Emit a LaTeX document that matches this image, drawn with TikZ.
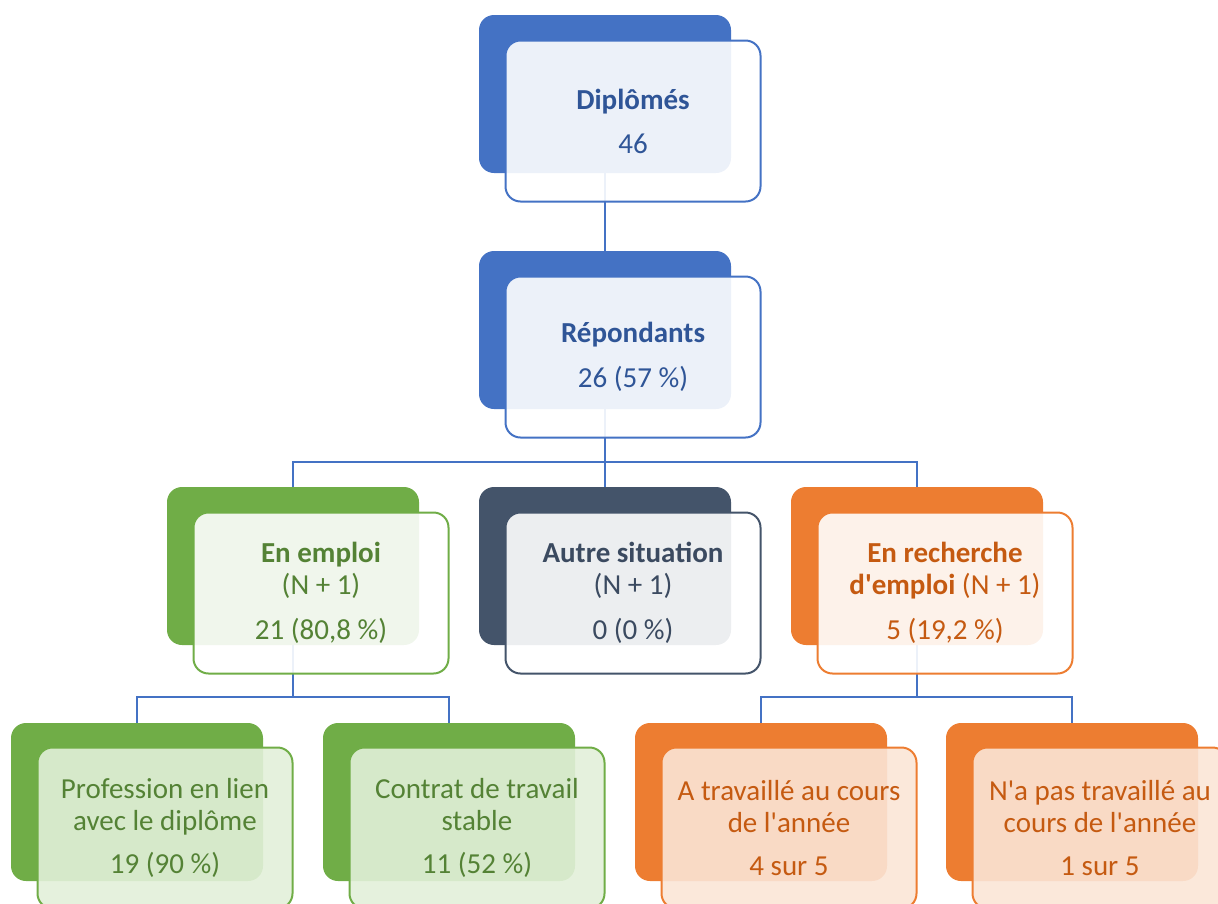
\documentclass[tikz,border=0pt]{standalone}
\usepackage{fontspec}
\newfontfamily\calfont{Carlito}
\definecolor{cblue}{HTML}{4472C4}
\definecolor{tblue}{HTML}{2F5597}
\definecolor{cgreen}{HTML}{70AD47}
\definecolor{tgreen}{HTML}{548235}
\definecolor{cslate}{HTML}{44546A}
\definecolor{tslate}{HTML}{3B4A60}
\definecolor{corange}{HTML}{ED7D31}
\definecolor{torange}{HTML}{C55A11}
\definecolor{lgreen}{HTML}{E2F0D9}
\definecolor{lorange}{HTML}{FBE5D6}
\pgfdeclarelayer{bg}
\pgfsetlayers{bg,main}
\tikzset{
  backbox/.style={draw=none, fill=#1, rounded corners=15pt, minimum width=252pt, minimum height=158pt, inner sep=0pt},
  frontbox/.style={draw=#1, line width=2pt, rounded corners=15pt, minimum width=255pt, minimum height=161pt,
    fill opacity=0.9, text opacity=1, align=center, inner sep=0pt, font=\calfont\fontsize{29}{32}\selectfont},
  link/.style={draw=cblue, line width=2.5pt}
}
\begin{document}
\begin{tikzpicture}[x=1pt,y=-1pt]
\useasboundingbox (0,0) rectangle (1218,903);
\clip (0,0) rectangle (1218,903);
% level 0
\node[backbox=cblue] (dipB) at (605,94) {};
\node[frontbox=cblue, fill=white, text=tblue] (dipF) at (633,121) {\textbf{Diplômés}\\[12pt]46};
\node[backbox=cblue] (repB) at (605,330) {};
\node[frontbox=cblue, fill=white, text=tblue] (repF) at (633,357) {\textbf{Répondants}\\[13pt]26 (57 \%)};
% level 1
\node[backbox=cgreen] (empB) at (293,566) {};
\node[frontbox=cgreen, fill=white, text=tgreen] (empF) at (321,593) {\textbf{En emploi}\\(N + 1)\\[13pt]21 (80,8 \%)};
\node[backbox=cslate] (autB) at (605,566) {};
\node[frontbox=cslate, fill=white, text=tslate] (autF) at (633,593) {\textbf{Autre situation}\\(N + 1)\\[13pt]0 (0 \%)};
\node[backbox=corange] (recB) at (917,566) {};
\node[frontbox=corange, fill=white, text=torange] (recF) at (945,593) {\textbf{En recherche}\\\textbf{d'emploi} (N + 1)\\[13pt]5 (19,2 \%)};
% level 2
\node[backbox=cgreen] (proB) at (137,802) {};
\node[frontbox=cgreen, fill=lgreen, text=tgreen] (proF) at (165,828) {Profession en lien\\avec le diplôme\\[11pt]19 (90 \%)};
\node[backbox=cgreen] (conB) at (449,802) {};
\node[frontbox=cgreen, fill=lgreen, text=tgreen] (conF) at (477,828) {Contrat de travail\\stable\\[11pt]11 (52 \%)};
\node[backbox=corange] (atrB) at (761,802) {};
\node[frontbox=corange, fill=lorange, text=torange] (atrF) at (789,828) {A travaillé au cours\\de l'année\\[11pt]4 sur 5};
\node[backbox=corange] (natB) at (1072,802) {};
\node[frontbox=corange, fill=lorange, text=torange] (natF) at (1100,828) {N'a pas travaillé au\\cours de l'année\\[11pt]1 sur 5};
% connectors
\coordinate (j1) at (605,462);
\coordinate (j2) at (293,697);
\coordinate (j3) at (917,697);
\begin{pgfonlayer}{bg}
\draw[link] (dipB.south) -- (repB.north);
\draw[link] (repB.south) -- (j1) -| (empB.north);
\draw[link] (j1) -- (autB.north);
\draw[link] (j1) -| (recB.north);
\draw[link] (empB.south) -- (j2) -| (proB.north);
\draw[link] (j2) -| (conB.north);
\draw[link] (recB.south) -- (j3) -| (atrB.north);
\draw[link] (j3) -| (natB.north);
\end{pgfonlayer}
\end{tikzpicture}
\end{document}
